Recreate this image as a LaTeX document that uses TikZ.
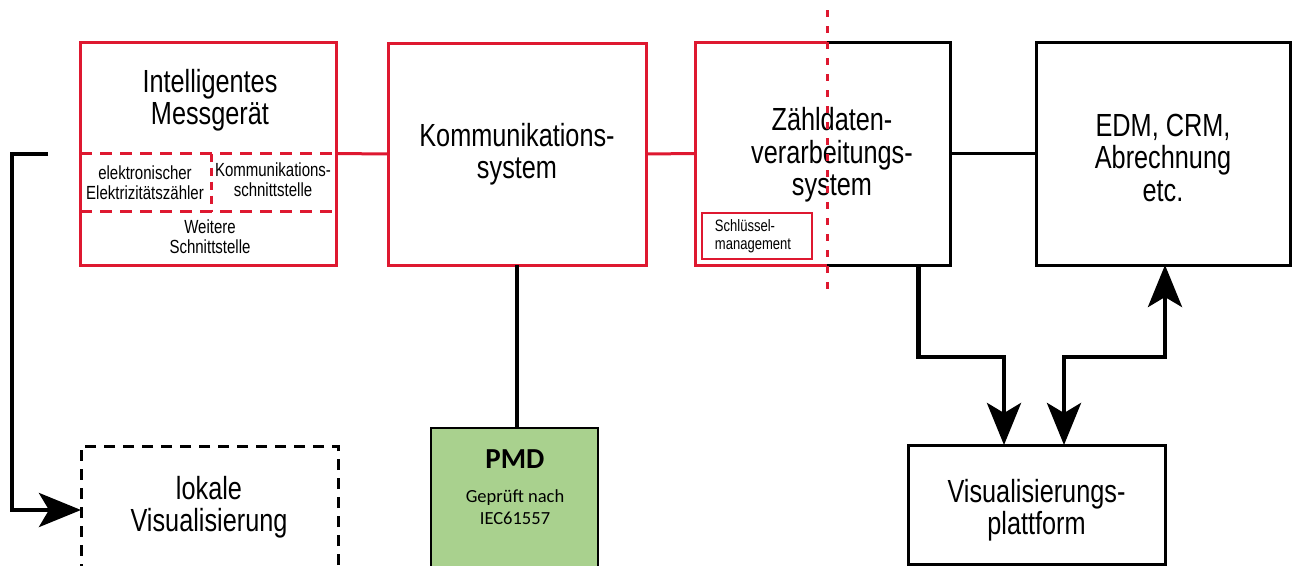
\documentclass[tikz,border=0pt]{standalone}
\usepackage{fontspec}
\setmainfont{Liberation Sans}[FakeStretch=0.79]
\newfontfamily\pmdfont{Carlito}
\usetikzlibrary{arrows.meta,positioning}
\definecolor{sysred}{RGB}{222,24,48}
\definecolor{pmdgreen}{RGB}{169,209,142}
\tikzset{
	redbox/.style={draw=sysred, line width=3pt, inner sep=0pt, outer sep=0pt},
	blackbox/.style={draw=black, line width=3pt, inner sep=0pt, outer sep=0pt},
	bigtext/.style={font=\fontsize{32}{32.5}\selectfont, align=center},
	smalltext/.style={font=\fontsize{19}{20}\selectfont, align=center, inner sep=0pt},
	redline/.style={draw=sysred, line width=3pt},
	bigtip/.tip={Stealth[length=42pt,width=34pt,inset=10pt]},
	flow/.style={line width=4.5pt, -bigtip},
}
\begin{document}
\begin{tikzpicture}[x=1pt, y=-1pt]
	\useasboundingbox (0,0) rectangle (1293,565);
	% upper row
	\node[redbox, minimum width=256pt, minimum height=223pt] (mess) at (208,153.5) {};
	\node[redbox, minimum width=258pt, minimum height=222pt] (komm) at (517,154) {};
	\node[outer sep=0pt, inner sep=0pt, minimum width=255pt, minimum height=223pt] (zaehl) at (822.5,153.5) {};
	\node[blackbox, minimum width=254pt, minimum height=223pt] (edm) at (1163,153.5) {};
	
	% Messgeraet inside
	\node[bigtext] (messtitle) at (210,100) {Intelligentes\\Messgerät};
	\draw[redline, dash pattern=on 12pt off 8pt] (mess.west) -- (mess.east);
	\draw[redline, dash pattern=on 12pt off 8pt] ([yshift=-58pt]mess.west) -- ([yshift=-58pt]mess.east);
	\draw[redline, dash pattern=on 8pt off 6pt] ([xshift=3pt]mess.center) -- ([xshift=3pt,yshift=-58pt]mess.center);
	\node[smalltext] (zaehler) at (145,183) {elektronischer\\Elektrizitätszähler};
	\node[smalltext] (kommschnitt) at (273,180) {Kommunikations-\\schnittstelle};
	\node[smalltext] (weitere) at (210,237) {Weitere\\Schnittstelle};
	
	\node[bigtext] (kommtitle) at (komm.center) {Kommunikations-\\system};
	
	% Zaehldaten: red half and black half
	\draw[redline] ([xshift=132pt]zaehl.north west) -- (zaehl.north west) -- (zaehl.south west) -- ([xshift=132pt]zaehl.south west);
	\draw[line width=3pt] ([xshift=132pt]zaehl.north west) -- (zaehl.north east) -- (zaehl.south east) -- ([xshift=132pt]zaehl.south west);
	\node[bigtext] (zaehltitle) at (832,155) {Zähldaten-\\verarbeitungs-\\system};
	\node[draw=sysred, line width=1.2pt, minimum width=110pt, minimum height=46pt, inner sep=0pt,
		font=\fontsize{16.5}{18}\selectfont, align=left] (schluessel) at (757,236)
		{Schlüssel-\\management\hspace*{8pt}};
	\coordinate (cuttop) at (827,10);
	\coordinate (cutbot) at (827,295);
	\draw[redline, dash pattern=on 7pt off 9pt] (cuttop) -- (cutbot);
	
	\node[bigtext] (edmtitle) at ([yshift=-4pt]edm.center) {EDM, CRM,\\Abrechnung\\etc.};
	
	% lower row
	\node[draw=black, line width=3pt, dash pattern=on 11pt off 8pt, minimum width=257pt, minimum height=128pt,
		inner sep=0pt, outer sep=0pt, anchor=north] (lokal) at (209.5,446) {};
	\node[bigtext] (lokaltitle) at (209,507) {lokale\\Visualisierung};
	\node[draw=black, fill=pmdgreen, line width=1.5pt, minimum width=167pt, minimum height=160pt,
		inner sep=0pt, outer sep=0pt, anchor=north] (pmd) at (514.5,428) {};
	\node[font=\pmdfont\bfseries\fontsize{29}{30}\selectfont] (pmdtitle) at (515,459) {PMD};
	\node[font=\pmdfont\fontsize{18.5}{22}\selectfont, align=center] (pmdtext) at (515,507) {Geprüft nach\\IEC61557};
	\node[blackbox, minimum width=257pt, minimum height=119pt, anchor=north] (vis) at (1036.5,445) {};
	\node[bigtext] (vistitle) at (1036.5,510) {Visualisierungs-\\plattform};
	
	% connections
	\draw[redline] (mess.east) -- (komm.west);
	\draw[redline] (komm.east) -- (zaehl.west);
	\draw[line width=3pt] (zaehl.east) -- (edm.west);
	\draw[line width=4.5pt] (komm.south) -- (komm.south |- pmd.north);
	\coordinate (lstart) at (48,154);
	\draw[flow] (lstart) -- (12,154) |- (lokal.west);
	\draw[flow] ([xshift=96pt]zaehl.south) |- ([xshift=-32.5pt,yshift=88pt]vis.north) -- ([xshift=-32.5pt]vis.north);
	\draw[flow, bigtip-bigtip] ([xshift=27.5pt]vis.north) |- ([xshift=2pt,yshift=-92pt]edm.south) -- ([xshift=2pt]edm.south);
	
\end{tikzpicture}
\end{document}
